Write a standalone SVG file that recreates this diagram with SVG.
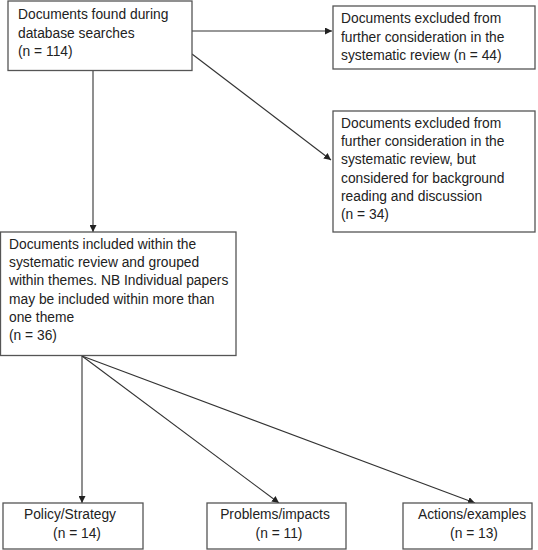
<svg xmlns="http://www.w3.org/2000/svg" width="538" height="550" viewBox="0 0 538 550">
<style>
.box{fill:#fff;stroke:#555;stroke-width:1.3}
text{font-family:"Liberation Sans",Arial,sans-serif;font-size:13.8px;fill:#222}
.c{text-anchor:middle}
.ln{stroke:#333;stroke-width:1.1;fill:none;marker-end:url(#ah)}
</style>
<defs>
<marker id="ah" viewBox="0 0 10 10" refX="10" refY="5" markerWidth="7" markerHeight="7" markerUnits="userSpaceOnUse" orient="auto">
<path d="M0,0 L10,5 L0,10 z" fill="#222"/>
</marker>
</defs>
<rect width="538" height="550" fill="#fff"/>
<g id="connectors">
<line class="ln" x1="192" y1="31" x2="332" y2="31"/>
<line class="ln" x1="192" y1="54" x2="331" y2="160"/>
<line class="ln" x1="93" y1="71" x2="93" y2="232"/>
<line class="ln" x1="82" y1="356" x2="82" y2="503"/>
<line class="ln" x1="82" y1="356" x2="279" y2="503"/>
<line class="ln" x1="82" y1="356" x2="475" y2="503"/>
</g>
<g id="found">
<rect class="box" x="8" y="1" width="184" height="69.5"/>
<text x="18" y="19">Documents found during</text>
<text x="18" y="37.5">database searches</text>
<text x="18" y="56">(n = 114)</text>
</g>
<g id="excluded">
<rect class="box" x="333" y="6" width="202" height="63"/>
<text x="341" y="23">Documents excluded from</text>
<text x="341" y="41.5">further consideration in the</text>
<text x="341" y="60">systematic review (n = 44)</text>
</g>
<g id="background">
<rect class="box" x="333" y="111" width="202" height="121"/>
<text x="341" y="128">Documents excluded from</text>
<text x="341" y="146.2">further consideration in the</text>
<text x="341" y="164.4">systematic review, but</text>
<text x="341" y="182.6">considered for background</text>
<text x="341" y="200.8">reading and discussion</text>
<text x="341" y="219">(n = 34)</text>
</g>
<g id="included">
<rect class="box" x="0.5" y="232" width="235.5" height="123.5"/>
<text x="9" y="249">Documents included within the</text>
<text x="9" y="267.2">systematic review and grouped</text>
<text x="9" y="285.4">within themes. NB Individual papers</text>
<text x="9" y="303.6">may be included within more than</text>
<text x="9" y="321.8">one theme</text>
<text x="9" y="340">(n = 36)</text>
</g>
<g id="policy">
<rect class="box" x="3" y="503" width="140" height="46"/>
<text class="c" x="70" y="519">Policy/Strategy</text>
<text class="c" x="77" y="537.5">(n = 14)</text>
</g>
<g id="problems">
<rect class="box" x="207" y="503" width="139" height="46"/>
<text class="c" x="275" y="519">Problems/impacts</text>
<text class="c" x="279" y="537.5">(n = 11)</text>
</g>
<g id="actions">
<rect class="box" x="403" y="503" width="129" height="46"/>
<text class="c" x="472" y="519">Actions/examples</text>
<text class="c" x="474" y="537.5">(n = 13)</text>
</g>
</svg>
